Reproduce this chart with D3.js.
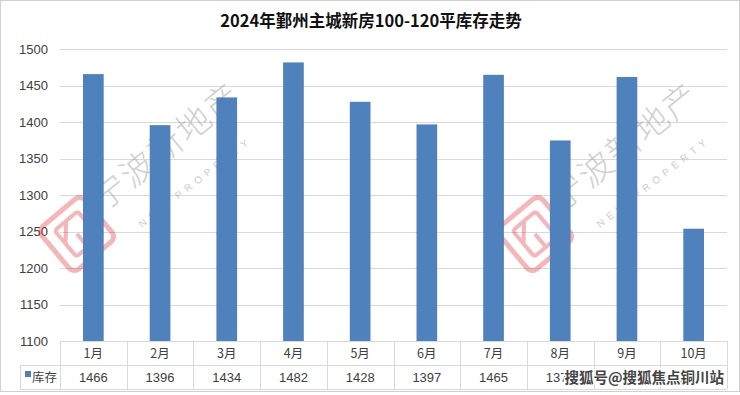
<!DOCTYPE html>
<html>
<head>
<meta charset="utf-8">
<script src="https://cdn.jsdelivr.net/npm/d3@7"></script>
<style>
  body { margin: 0; background: #fff; }
  svg { display: block; }
</style>
</head>
<body>
<svg id="chart" width="740" height="395"></svg>
<script>
// data
const months = ['1月', '2月', '3月', '4月', '5月', '6月', '7月', '8月', '9月', '10月'];
const stock = [1466, 1396, 1434, 1482, 1428, 1397, 1465, 1375, 1462, 1254];
const yTicks = [1100, 1150, 1200, 1250, 1300, 1350, 1400, 1450, 1500];
const seriesName = '库存';
const title = '2024年鄞州主城新房100-120平库存走势';

const width = 740, height = 395;
const plot = { left: 60, right: 727, top: 49.3, bottom: 341 };
const rowH = 24;
const blue = '#4f81bd';
const lineCol = '#d9d9d9';
const textCol = '#404040';
const fontNum = 'Liberation Sans, Arial, sans-serif';
const fontCjk = '"Noto Sans CJK SC", "Noto Sans", sans-serif';

const svg = d3.select('#chart');

// outer frame
svg.append('rect')
  .attr('x', 0.5).attr('y', 0.5)
  .attr('width', width - 1).attr('height', 391)
  .attr('fill', '#fff')
  .attr('stroke', '#d0d0d0');

// title
svg.append('text')
  .attr('x', 371).attr('y', 27)
  .attr('text-anchor', 'middle')
  .attr('font-family', fontCjk)
  .attr('font-weight', 'bold')
  .attr('font-size', 16.5)
  .attr('fill', '#111')
  .text(title);

// scales
const x = d3.scaleBand()
  .domain(months)
  .range([plot.left, plot.right])
  .padding(0);

const y = d3.scaleLinear()
  .domain([1100, 1500])
  .range([plot.bottom, plot.top]);

// gridlines
svg.append('g')
  .selectAll('line')
  .data(yTicks)
  .join('line')
  .attr('x1', plot.left).attr('x2', plot.right)
  .attr('y1', d => Math.round(y(d)) + 0.5)
  .attr('y2', d => Math.round(y(d)) + 0.5)
  .attr('stroke', lineCol);

// y axis labels
const yAxis = svg.append('g')
  .attr('transform', `translate(${plot.left - 12},0)`)
  .call(d3.axisLeft(y).tickValues(yTicks).tickSize(0).tickPadding(0).tickFormat(d3.format('d')));
yAxis.select('.domain').remove();
yAxis.selectAll('text')
  .attr('font-family', fontNum)
  .attr('font-size', 13)
  .attr('fill', textCol);

// watermarks (behind bars)
const marks = svg.append('g');
[0, 458].forEach(dx => {
  const g = marks.append('g').attr('transform', `translate(${dx},0)`);
  const logo = g.append('g').attr('transform', 'translate(77,234) rotate(-40)').attr('opacity', 0.35);
  logo.append('rect')
    .attr('x', -28).attr('y', -28).attr('width', 56).attr('height', 56).attr('rx', 7)
    .attr('fill', 'none').attr('stroke', '#e0313a').attr('stroke-width', 5);
  logo.append('rect')
    .attr('x', -15).attr('y', -17).attr('width', 30).attr('height', 34).attr('rx', 3)
    .attr('fill', 'none').attr('stroke', '#e0313a').attr('stroke-width', 4);
  logo.append('path')
    .attr('d', 'M-15,0 L0,-17 M0,0 L0,17')
    .attr('fill', 'none').attr('stroke', '#e0313a').attr('stroke-width', 4);
  g.append('text')
    .attr('transform', 'translate(104,212) rotate(-39)')
    .attr('font-family', fontCjk)
    .attr('font-size', 34)
    .attr('font-weight', 300)
    .attr('fill', '#999')
    .attr('opacity', 0.45)
    .attr('letter-spacing', 2)
    .text('宁波新地产');
  g.append('text')
    .attr('transform', 'translate(142,228) rotate(-38)')
    .attr('font-family', fontNum)
    .attr('font-size', 10)
    .attr('fill', '#999')
    .attr('opacity', 0.5)
    .attr('letter-spacing', 5)
    .text('NEW PROPERTY');
});

// bars
const barFrac = 0.31;
svg.append('g')
  .selectAll('rect')
  .data(months.map((m, i) => ({ m, v: stock[i] })))
  .join('rect')
  .attr('x', d => x(d.m) + x.bandwidth() * (1 - barFrac) / 2)
  .attr('width', x.bandwidth() * barFrac)
  .attr('y', d => y(d.v))
  .attr('height', d => y(1100) - y(d.v))
  .attr('fill', blue);

// data table
const table = svg.append('g');
const r1 = plot.bottom, r2 = plot.bottom + rowH, r3 = plot.bottom + rowH * 2;
const hLines = [
  { x1: plot.left, x2: plot.right, y: r1 },
  { x1: 20, x2: plot.right, y: r2 },
  { x1: 20, x2: plot.right, y: r3 }
];
table.selectAll('.h')
  .data(hLines)
  .join('line')
  .attr('x1', d => d.x1).attr('x2', d => d.x2)
  .attr('y1', d => Math.round(d.y) + 0.5).attr('y2', d => Math.round(d.y) + 0.5)
  .attr('stroke', lineCol);

const edges = months.map(m => x(m)).concat([plot.right]);
table.selectAll('.v')
  .data(edges)
  .join('line')
  .attr('x1', d => Math.round(d) + 0.5).attr('x2', d => Math.round(d) + 0.5)
  .attr('y1', r1).attr('y2', r3)
  .attr('stroke', lineCol);
table.append('line')
  .attr('x1', 20.5).attr('x2', 20.5)
  .attr('y1', r2).attr('y2', r3)
  .attr('stroke', lineCol);

table.selectAll('.mon')
  .data(months)
  .join('text')
  .attr('x', d => x(d) + x.bandwidth() / 2)
  .attr('y', r1 + 17)
  .attr('text-anchor', 'middle')
  .attr('font-family', fontCjk)
  .attr('font-size', 12.5)
  .attr('fill', textCol)
  .text(d => d);

table.selectAll('.val')
  .data(months.map((m, i) => ({ m, v: stock[i] })))
  .join('text')
  .attr('x', d => x(d.m) + x.bandwidth() / 2)
  .attr('y', r2 + 17)
  .attr('text-anchor', 'middle')
  .attr('font-family', fontNum)
  .attr('font-size', 13)
  .attr('fill', textCol)
  .text(d => d.v);

// legend key in table
table.append('rect')
  .attr('x', 25).attr('y', 371).attr('width', 6).attr('height', 6)
  .attr('fill', blue);
table.append('text')
  .attr('x', 32).attr('y', r2 + 17)
  .attr('font-family', fontCjk)
  .attr('font-size', 12.5)
  .attr('fill', textCol)
  .text(seriesName);

// source stamp (overlays the table, as in the original image)
svg.append('text')
  .attr('x', 724).attr('y', 383)
  .attr('text-anchor', 'end')
  .attr('font-family', fontCjk)
  .attr('font-weight', 'bold')
  .attr('font-size', 14.5)
  .attr('fill', '#444')
  .attr('stroke', '#fff')
  .attr('stroke-width', 3)
  .attr('paint-order', 'stroke')
  .text('搜狐号@搜狐焦点铜川站');
</script>
</body>
</html>
